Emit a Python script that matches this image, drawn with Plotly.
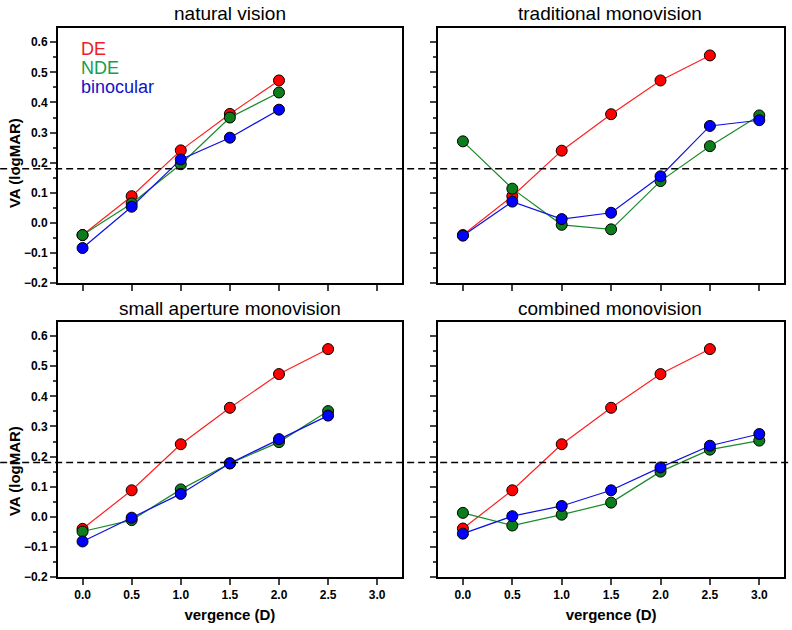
"""Agudeza visual frente a vergencia para cuatro condiciones de monovisión."""

import plotly.graph_objects as go

VERGENCIA = [0.0, 0.5, 1.0, 1.5, 2.0, 2.5, 3.0]
UMBRAL = 0.18

TITULOS = [
    "natural vision",
    "traditional monovision",
    "small aperture monovision",
    "combined monovision",
]

# natural vision
NAT_DE = [-0.04, 0.089, 0.241, 0.362, 0.473]
NAT_NDE = [-0.04, 0.065, 0.195, 0.35, 0.433]
NAT_BIN = [-0.083, 0.054, 0.211, 0.283, 0.376]

# traditional monovision
TRA_DE = [-0.04, 0.089, 0.24, 0.361, 0.473, 0.556]
TRA_NDE = [0.271, 0.114, -0.006, -0.021, 0.139, 0.255, 0.357]
TRA_BIN = [-0.042, 0.071, 0.013, 0.034, 0.155, 0.322, 0.341]

# small aperture monovision
SAM_DE = [-0.04, 0.088, 0.241, 0.362, 0.474, 0.557]
SAM_NDE = [-0.049, -0.011, 0.091, 0.177, 0.248, 0.351]
SAM_BIN = [-0.082, -0.003, 0.076, 0.178, 0.258, 0.336]

# combined monovision
COM_DE = [-0.039, 0.088, 0.241, 0.362, 0.474, 0.557]
COM_NDE = [0.013, -0.029, 0.007, 0.047, 0.15, 0.223, 0.253]
COM_BIN = [-0.056, 0.002, 0.036, 0.088, 0.164, 0.236, 0.275]

PANELES = [
    (NAT_DE, NAT_NDE, NAT_BIN),
    (TRA_DE, TRA_NDE, TRA_BIN),
    (SAM_DE, SAM_NDE, SAM_BIN),
    (COM_DE, COM_NDE, COM_BIN),
]

SERIES = ["DE", "NDE", "binocular"]
COLORES_MARCA = {"DE": "#ff0000", "NDE": "#0b7d1b", "binocular": "#0000ff"}
COLORES_LINEA = {"DE": "#ff2020", "NDE": "#1a8a2a", "binocular": "#1010e0"}
COLORES_TEXTO = {"DE": "#ee1c25", "NDE": "#12a04c", "binocular": "#1212c8"}

# geometría en píxeles (figura 792x630)
ANCHO, ALTO = 792, 630
M_IZQ, M_DER, M_SUP, M_INF = 58, 6, 28, 53
AREA_W = ANCHO - M_IZQ - M_DER
AREA_H = ALTO - M_SUP - M_INF

DOM_X = [[0.0, 0.4735], [0.5237, 1.0]]
DOM_Y = [[0.535, 1.0], [0.0, 0.4645]]

RANGO_X = [-0.25, 3.25]
RANGO_Y = [-0.2, 0.647]

FUENTE = "Arial, Liberation Sans, sans-serif"
TICKFONT = dict(family=FUENTE, size=12, color="black", weight="bold")


def px_x(p):
    return (p - M_IZQ) / AREA_W


def px_y(p):
    return (ALTO - M_INF - p) / AREA_H


fig = go.Figure()

for i, datos in enumerate(PANELES):
    sufijo = "" if i == 0 else str(i + 1)
    for nombre, valores in zip(SERIES, datos):
        fig.add_trace(
            go.Scatter(
                x=VERGENCIA[: len(valores)],
                y=valores,
                mode="lines+markers",
                name=nombre,
                showlegend=False,
                xaxis="x" + sufijo,
                yaxis="y" + sufijo,
                line=dict(color=COLORES_LINEA[nombre], width=1.2),
                marker=dict(
                    size=11,
                    color=COLORES_MARCA[nombre],
                    line=dict(color="black", width=1),
                ),
            )
        )

layout = dict(
    width=ANCHO,
    height=ALTO,
    margin=dict(l=M_IZQ, r=M_DER, t=M_SUP, b=M_INF),
    plot_bgcolor="white",
    paper_bgcolor="white",
    font=dict(family=FUENTE, color="black"),
    showlegend=False,
)

for i in range(4):
    fila, col = divmod(i, 2)
    n = i + 1
    sufijo = "" if n == 1 else str(n)
    # ejes principales: ticks hacia fuera
    layout[f"xaxis{sufijo}"] = dict(
        domain=DOM_X[col],
        anchor="y" + sufijo,
        range=RANGO_X,
        tick0=0,
        dtick=0.5,
        tickformat=".1f",
        ticks="outside",
        ticklen=6,
        tickwidth=1.5,
        showline=True,
        linewidth=2,
        linecolor="black",
        mirror=True,
        showgrid=False,
        zeroline=False,
        showticklabels=(fila == 1),
        tickfont=TICKFONT,
        title=dict(
            text="vergence (D)" if fila == 1 else "",
            font=dict(family=FUENTE, size=15, weight="bold"),
            standoff=8,
        ),
    )
    layout[f"yaxis{sufijo}"] = dict(
        domain=DOM_Y[fila],
        anchor="x" + sufijo,
        range=RANGO_Y,
        tick0=0,
        dtick=0.1,
        tickformat=".1f",
        ticks="outside",
        ticklen=6,
        tickwidth=1.5,
        minor=dict(dtick=0.05, ticks="outside", ticklen=3, tickwidth=1.5),
        showline=True,
        linewidth=2,
        linecolor="black",
        mirror=True,
        showgrid=False,
        zeroline=False,
        showticklabels=(col == 0),
        tickfont=TICKFONT,
    )
    # ejes espejo: ticks hacia dentro arriba y a la derecha
    layout[f"xaxis{n + 4}"] = dict(
        overlaying="x" + sufijo,
        anchor="y" + sufijo,
        side="top",
        range=RANGO_X,
        tick0=0,
        dtick=0.5,
        ticks="inside",
        ticklen=5,
        tickwidth=1.5,
        showticklabels=False,
        showline=False,
        showgrid=False,
        zeroline=False,
    )
    layout[f"yaxis{n + 4}"] = dict(
        overlaying="y" + sufijo,
        anchor="x" + sufijo,
        side="right",
        range=RANGO_Y,
        tick0=0,
        dtick=0.1,
        ticks="inside",
        ticklen=6,
        tickwidth=1.5,
        minor=dict(dtick=0.05, ticks="inside", ticklen=3, tickwidth=1.5),
        showticklabels=False,
        showline=False,
        showgrid=False,
        zeroline=False,
    )

fig.update_layout(**layout)

# línea de referencia discontinua a lo ancho de toda la figura
for yref in ["y", "y3"]:
    fig.add_shape(
        type="line",
        xref="paper",
        yref=yref,
        x0=px_x(0),
        x1=px_x(ANCHO),
        y0=UMBRAL,
        y1=UMBRAL,
        line=dict(color="black", width=1.5, dash="7px,4px"),
    )

# títulos de cada panel
centros_x = [230, 612]
centros_y = [14, 308]
for i, titulo in enumerate(TITULOS):
    fila, col = divmod(i, 2)
    fig.add_annotation(
        text=titulo,
        xref="paper",
        yref="paper",
        x=px_x(centros_x[col]),
        y=px_y(centros_y[fila]),
        xanchor="center",
        yanchor="middle",
        showarrow=False,
        font=dict(family=FUENTE, size=19, color="black"),
    )

# título del eje y (algo desplazado hacia abajo, como en el original)
for py in [163, 471]:
    fig.add_annotation(
        text="VA (logMAR)",
        xref="paper",
        yref="paper",
        x=px_x(14),
        y=px_y(py),
        xanchor="center",
        yanchor="middle",
        textangle=-90,
        showarrow=False,
        font=dict(family=FUENTE, size=15, weight="bold", color="black"),
    )

# leyenda como texto coloreado
for nombre, py in zip(SERIES, [49, 68, 87]):
    fig.add_annotation(
        text=nombre,
        xref="paper",
        yref="paper",
        x=px_x(79),
        y=px_y(py),
        xanchor="left",
        yanchor="middle",
        showarrow=False,
        font=dict(family=FUENTE, size=18, color=COLORES_TEXTO[nombre]),
    )

# sin margen del body para que la figura ocupe la ventana exacta
fig.write_html(
    "out.html",
    config={"displayModeBar": False},
    post_script="document.body.style.margin='0';",
)
